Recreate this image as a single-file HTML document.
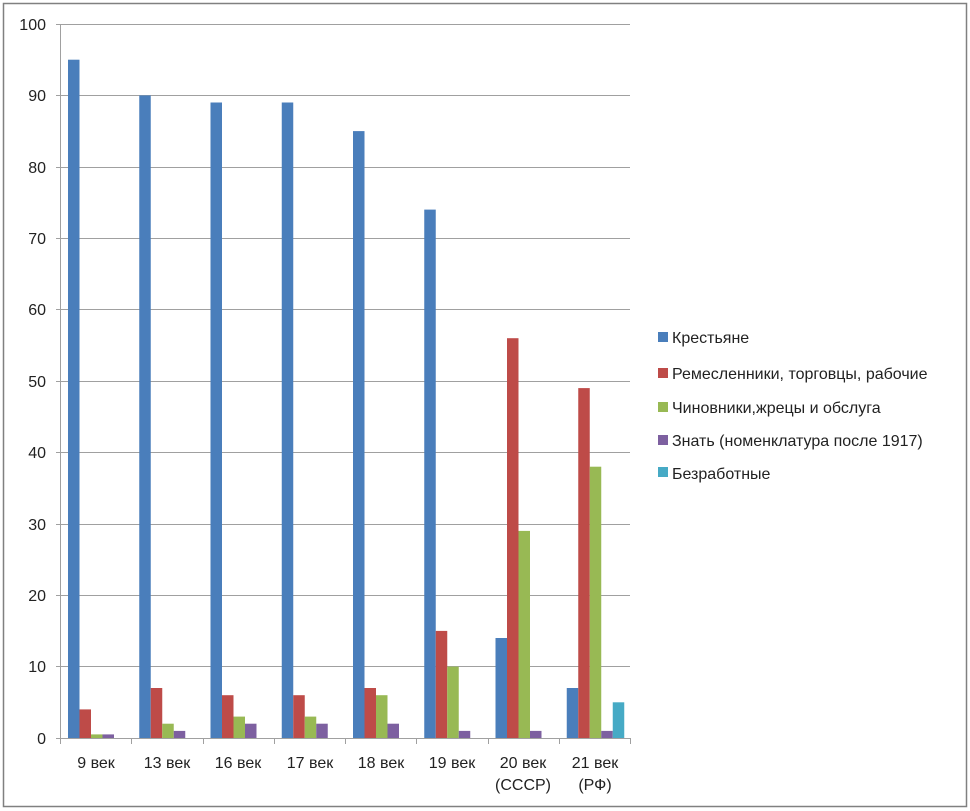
<!DOCTYPE html>
<html><head><meta charset="utf-8"><style>body{margin:0;background:#fff}svg{display:block}text{font-family:"Liberation Sans",sans-serif}</style></head><body>
<svg width="970" height="811" xmlns="http://www.w3.org/2000/svg">
<rect x="3.5" y="3.5" width="963" height="803" fill="#fff" stroke="#808080" stroke-width="1.5"/>
<g stroke="#a0a0a0" stroke-width="1">
<line x1="56" y1="24.5" x2="630" y2="24.5"/><line x1="56" y1="95.5" x2="630" y2="95.5"/><line x1="56" y1="167.5" x2="630" y2="167.5"/><line x1="56" y1="238.5" x2="630" y2="238.5"/><line x1="56" y1="309.5" x2="630" y2="309.5"/><line x1="56" y1="381.5" x2="630" y2="381.5"/><line x1="56" y1="452.5" x2="630" y2="452.5"/><line x1="56" y1="524.5" x2="630" y2="524.5"/><line x1="56" y1="595.5" x2="630" y2="595.5"/><line x1="56" y1="666.5" x2="630" y2="666.5"/>
<line x1="56" y1="738.5" x2="630" y2="738.5"/>
<line x1="60.5" y1="24" x2="60.5" y2="738"/>
<line x1="60.5" y1="738" x2="60.5" y2="744"/><line x1="131.5" y1="738" x2="131.5" y2="744"/><line x1="203.5" y1="738" x2="203.5" y2="744"/><line x1="274.5" y1="738" x2="274.5" y2="744"/><line x1="345.5" y1="738" x2="345.5" y2="744"/><line x1="416.5" y1="738" x2="416.5" y2="744"/><line x1="488.5" y1="738" x2="488.5" y2="744"/><line x1="559.5" y1="738" x2="559.5" y2="744"/><line x1="630.5" y1="738" x2="630.5" y2="744"/>
</g>
<g font-size="16" fill="#222" text-anchor="end">
<text x="46" y="30">100</text><text x="46" y="101">90</text><text x="46" y="173">80</text><text x="46" y="244">70</text><text x="46" y="315">60</text><text x="46" y="387">50</text><text x="46" y="458">40</text><text x="46" y="530">30</text><text x="46" y="601">20</text><text x="46" y="672">10</text><text x="46" y="744">0</text>
</g>
<g font-size="16" fill="#222" text-anchor="middle">
<text x="96" y="768">9 век</text><text x="167" y="768">13 век</text><text x="238" y="768">16 век</text><text x="310" y="768">17 век</text><text x="381" y="768">18 век</text><text x="452" y="768">19  век</text><text x="523" y="768">20 век</text><text x="523" y="790">(СССР)</text><text x="595" y="768">21 век</text><text x="595" y="790">(РФ)</text>
</g>
<g font-size="16" fill="#222">
<rect x="658" y="332" width="10" height="10" fill="#4a7ebb"/><text x="672" y="343">Крестьяне</text>
<rect x="658" y="368" width="10" height="10" fill="#be4b48"/><text x="672" y="379">Ремесленники, торговцы, рабочие</text>
<rect x="658" y="402" width="10" height="10" fill="#98b954"/><text x="672" y="413">Чиновники,жрецы и обслуга</text>
<rect x="658" y="435" width="10" height="10" fill="#7d60a0"/><text x="672" y="446">Знать (номенклатура после 1917)</text>
<rect x="658" y="467" width="10" height="10" fill="#46aac5"/><text x="672" y="479">Безработные</text>
</g>
<g>
<rect x="68" y="59.7" width="11.5" height="678.3" fill="#4a7ebb"/><rect x="79.5" y="709.4" width="11.5" height="28.6" fill="#be4b48"/><rect x="91" y="734.4" width="11.5" height="3.6" fill="#98b954"/><rect x="102.5" y="734.4" width="11.5" height="3.6" fill="#7d60a0"/>
<rect x="139.25" y="95.4" width="11.5" height="642.6" fill="#4a7ebb"/><rect x="150.75" y="688" width="11.5" height="50" fill="#be4b48"/><rect x="162.25" y="723.7" width="11.5" height="14.3" fill="#98b954"/><rect x="173.75" y="730.9" width="11.5" height="7.1" fill="#7d60a0"/>
<rect x="210.5" y="102.5" width="11.5" height="635.5" fill="#4a7ebb"/><rect x="222" y="695.2" width="11.5" height="42.8" fill="#be4b48"/><rect x="233.5" y="716.6" width="11.5" height="21.4" fill="#98b954"/><rect x="245" y="723.7" width="11.5" height="14.3" fill="#7d60a0"/>
<rect x="281.75" y="102.5" width="11.5" height="635.5" fill="#4a7ebb"/><rect x="293.25" y="695.2" width="11.5" height="42.8" fill="#be4b48"/><rect x="304.75" y="716.6" width="11.5" height="21.4" fill="#98b954"/><rect x="316.25" y="723.7" width="11.5" height="14.3" fill="#7d60a0"/>
<rect x="353" y="131.1" width="11.5" height="606.9" fill="#4a7ebb"/><rect x="364.5" y="688" width="11.5" height="50" fill="#be4b48"/><rect x="376" y="695.2" width="11.5" height="42.8" fill="#98b954"/><rect x="387.5" y="723.7" width="11.5" height="14.3" fill="#7d60a0"/>
<rect x="424.25" y="209.6" width="11.5" height="528.4" fill="#4a7ebb"/><rect x="435.75" y="630.9" width="11.5" height="107.1" fill="#be4b48"/><rect x="447.25" y="666.6" width="11.5" height="71.4" fill="#98b954"/><rect x="458.75" y="730.9" width="11.5" height="7.1" fill="#7d60a0"/>
<rect x="495.5" y="638" width="11.5" height="100" fill="#4a7ebb"/><rect x="507" y="338.2" width="11.5" height="399.8" fill="#be4b48"/><rect x="518.5" y="530.9" width="11.5" height="207.1" fill="#98b954"/><rect x="530" y="730.9" width="11.5" height="7.1" fill="#7d60a0"/>
<rect x="566.75" y="688" width="11.5" height="50" fill="#4a7ebb"/><rect x="578.25" y="388.1" width="11.5" height="349.9" fill="#be4b48"/><rect x="589.75" y="466.7" width="11.5" height="271.3" fill="#98b954"/><rect x="601.25" y="730.9" width="11.5" height="7.1" fill="#7d60a0"/><rect x="612.75" y="702.3" width="11.5" height="35.7" fill="#46aac5"/>
</g>
</svg>
</body></html>
